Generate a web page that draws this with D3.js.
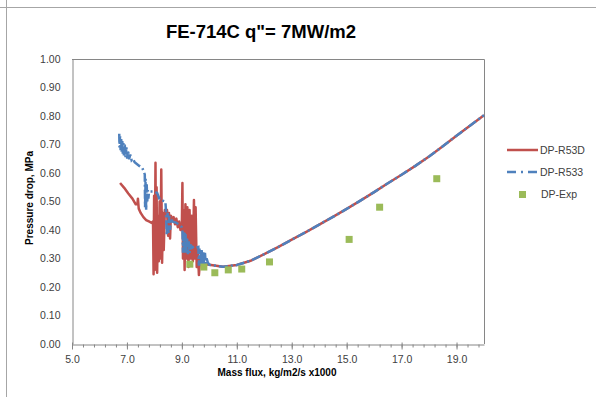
<!DOCTYPE html>
<html>
<head>
<meta charset="utf-8">
<style>
  body { margin: 0; background: #fff; font-family: "Liberation Sans", Arial, sans-serif; }
  svg text { fill: #404040; }
</style>
<script src="https://cdn.jsdelivr.net/npm/d3@7"></script>
</head>
<body>
<svg id="chart" width="596" height="397"></svg>
<script>
// values: [mass flux x1000, pressure drop MPa]
let smoothTail = [
  [10.0, 0.278], [10.5, 0.271], [11.0, 0.277], [11.5, 0.292], [12.0, 0.315],
  [12.5, 0.340], [13.0, 0.366], [13.5, 0.392], [14.0, 0.419], [14.5, 0.446],
  [15.0, 0.474], [15.5, 0.503], [16.0, 0.533], [16.5, 0.564], [17.0, 0.594],
  [17.5, 0.625], [18.0, 0.658], [18.5, 0.694], [19.0, 0.731], [19.5, 0.767],
  [20.0, 0.803]
]

let r53dHead = [
  [6.75, 0.565], [6.9, 0.548], [7.05, 0.528], [7.2, 0.51], [7.32, 0.49], [7.38, 0.49],
  [7.4, 0.51], [7.43, 0.475], [7.5, 0.46], [7.6, 0.445], [7.7, 0.435], [7.8, 0.43],
  [7.9, 0.425], [7.95, 0.43], [7.97, 0.245], [7.99, 0.52], [8.01, 0.26], [8.04, 0.636],
  [8.06, 0.28], [8.08, 0.55], [8.1, 0.25], [8.13, 0.45], [8.16, 0.29], [8.19, 0.5],
  [8.22, 0.3], [8.25, 0.612], [8.28, 0.285], [8.31, 0.46], [8.34, 0.33], [8.38, 0.47],
  [8.42, 0.455], [8.46, 0.47], [8.5, 0.38], [8.53, 0.46], [8.57, 0.37], [8.6, 0.45],
  [8.65, 0.44], [8.7, 0.445], [8.75, 0.42], [8.8, 0.44], [8.85, 0.41], [8.9, 0.43],
  [8.95, 0.4], [9.0, 0.42], [9.02, 0.565], [9.04, 0.3], [9.07, 0.47], [9.1, 0.26],
  [9.13, 0.49], [9.16, 0.3], [9.2, 0.48], [9.24, 0.27], [9.28, 0.47], [9.32, 0.3],
  [9.36, 0.45], [9.4, 0.29], [9.44, 0.505], [9.47, 0.3], [9.5, 0.48], [9.54, 0.27],
  [9.58, 0.33], [9.62, 0.242], [9.66, 0.29], [9.7, 0.3], [9.75, 0.285], [9.85, 0.28]
]

let r533Head = [
  [6.72, 0.738], [6.73, 0.69], [6.75, 0.73], [6.77, 0.68], [6.79, 0.72], [6.81, 0.675],
  [6.83, 0.712], [6.85, 0.668], [6.87, 0.705], [6.89, 0.662], [6.92, 0.7], [6.95, 0.655],
  [6.98, 0.69], [7.01, 0.65], [7.04, 0.68], [7.08, 0.648], [7.12, 0.665], [7.17, 0.645],
  [7.22, 0.65], [7.28, 0.638], [7.45, 0.625], [7.56, 0.618], [7.65, 0.595], [7.66, 0.48],
  [7.68, 0.58], [7.7, 0.47], [7.72, 0.56], [7.74, 0.5], [7.76, 0.54], [7.78, 0.51],
  [7.8, 0.53], [7.85, 0.535], [8.0, 0.535], [8.1, 0.53], [8.2, 0.505], [8.3, 0.503],
  [8.4, 0.5], [8.42, 0.47], [8.45, 0.38], [8.48, 0.46], [8.51, 0.39], [8.54, 0.45],
  [8.57, 0.4], [8.6, 0.44], [8.65, 0.43], [8.8, 0.425], [9.0, 0.41], [9.02, 0.40],
  [9.04, 0.32], [9.06, 0.395], [9.08, 0.315], [9.1, 0.39], [9.12, 0.32], [9.14, 0.385],
  [9.16, 0.32], [9.19, 0.37], [9.22, 0.315], [9.25, 0.36], [9.28, 0.32], [9.31, 0.35],
  [9.35, 0.33], [9.4, 0.34], [9.45, 0.335], [9.6, 0.34], [9.62, 0.275], [9.64, 0.335],
  [9.66, 0.275], [9.68, 0.33], [9.7, 0.275], [9.72, 0.33], [9.75, 0.278], [9.78, 0.325],
  [9.81, 0.28], [9.84, 0.32], [9.87, 0.282], [9.9, 0.3], [9.95, 0.285]
]

let expPoints = [
  [9.29, 0.28], [9.8, 0.27], [10.2, 0.25], [10.69, 0.26], [11.18, 0.263],
  [12.19, 0.288], [15.09, 0.367], [16.2, 0.48], [18.28, 0.58]
]

let xTicks = [5, 7, 9, 11, 13, 15, 17, 19]
let yTicks = [0, 0.1, 0.2, 0.3, 0.4, 0.5, 0.6, 0.7, 0.8, 0.9, 1.0]
let seriesNames = ["DP-R53D", "DP-R533", "DP-Exp"]

let svg = d3.select("#chart")
let margin = { left: 72, top: 59, right: 112, bottom: 53 }
let width = 596, height = 397

// sheet cell borders around the chart
svg.append("line").attr("x1", 0).attr("x2", width).attr("y1", 7.5).attr("y2", 7.5)
  .attr("stroke", "#a6a6a6")
svg.append("line").attr("x1", 6.5).attr("x2", 6.5).attr("y1", 0).attr("y2", height)
  .attr("stroke", "#a6a6a6")

let x = d3.scaleLinear().domain([5, 20]).range([margin.left, width - margin.right])
let y = d3.scaleLinear().domain([0, 1]).range([height - margin.bottom, margin.top])

// plot area frame (top and right)
svg.append("path")
  .attr("d", `M${x(5)},${y(1) + 0.5}H${x(20) + 0.5}V${y(0)}`)
  .attr("fill", "none").attr("stroke", "#868686")

// x axis, minor ticks first
svg.append("g")
  .attr("transform", `translate(0,${y(0) + 0.5})`)
  .call(d3.axisBottom(x).tickValues(d3.range(5, 20, 0.4)).tickSize(3).tickFormat(""))
  .call(g => g.select(".domain").remove())
  .call(g => g.selectAll("line").attr("stroke", "#868686"))

svg.append("g")
  .attr("transform", `translate(0,${y(0) + 0.5})`)
  .call(d3.axisBottom(x).tickValues(xTicks).tickSize(5).tickSizeOuter(0).tickPadding(6).tickFormat(d3.format(".1f")))
  .call(g => g.select(".domain").attr("stroke", "#868686"))
  .call(g => g.selectAll("line").attr("stroke", "#868686").attr("y1", -2))
  .call(g => g.selectAll("text").attr("font-size", 10.5).attr("fill", "#404040")
    .attr("font-family", "Liberation Sans, Arial, sans-serif"))

svg.append("g")
  .attr("transform", `translate(${x(5) + 0.5},0)`)
  .call(d3.axisLeft(y).tickValues(yTicks).tickSize(0).tickPadding(12).tickFormat(d3.format(".2f")))
  .call(g => g.select(".domain").attr("stroke", "#868686"))
  .call(g => g.selectAll("text").attr("font-size", 10.5).attr("fill", "#404040")
    .attr("font-family", "Liberation Sans, Arial, sans-serif"))

// series
let line = d3.line().x(d => x(d[0])).y(d => y(d[1]))

svg.append("path")
  .datum(r53dHead.concat(smoothTail))
  .attr("d", line)
  .attr("fill", "none").attr("stroke", "#c0504d").attr("stroke-width", 2.5)
  .attr("stroke-linejoin", "round")

svg.append("path")
  .datum(r533Head.concat(smoothTail))
  .attr("d", line)
  .attr("fill", "none").attr("stroke", "#4f81bd").attr("stroke-width", 2.5)
  .attr("stroke-dasharray", "9,3,2,3")

svg.selectAll(".exp").data(expPoints).enter().append("rect")
  .attr("class", "exp")
  .attr("x", d => x(d[0]) - 3.5).attr("y", d => y(d[1]) - 3.5)
  .attr("width", 7).attr("height", 7)
  .attr("fill", "#9bbb59")

// titles
svg.append("text").attr("x", 261).attr("y", 38).attr("text-anchor", "middle")
  .attr("font-size", 18.5).attr("font-weight", "bold")
  .style("fill", "#000")
  .text('FE-714C q"= 7MW/m2')

svg.append("text").attr("x", 277).attr("y", 376).attr("text-anchor", "middle")
  .attr("font-size", 10).attr("font-weight", "bold").style("fill", "#000")
  .text("Mass flux, kg/m2/s x1000")

svg.append("text").attr("transform", "translate(33,198) rotate(-90)").attr("text-anchor", "middle")
  .attr("font-size", 10).attr("font-weight", "bold").style("fill", "#000")
  .text("Pressure drop, MPa")

// legend
let legend = svg.append("g").attr("transform", "translate(507,150)")
let rowGap = 22
legend.append("line").attr("x1", 0).attr("x2", 31).attr("y1", 0).attr("y2", 0)
  .attr("stroke", "#c0504d").attr("stroke-width", 2.5)
legend.append("line").attr("x1", 0).attr("x2", 31).attr("y1", rowGap).attr("y2", rowGap)
  .attr("stroke", "#4f81bd").attr("stroke-width", 2.5).attr("stroke-dasharray", "9,5,2,5")
legend.append("rect").attr("x", 12).attr("y", rowGap * 2 - 3).attr("width", 7).attr("height", 7)
  .attr("fill", "#9bbb59")
legend.selectAll(".lbl").data(seriesNames).enter().append("text")
  .attr("class", "lbl")
  .attr("x", d => d == "DP-Exp" ? 34 : 33).attr("y", (d, i) => i * rowGap + 3.5)
  .attr("font-size", 10.5).style("fill", "#404040")
  .text(d => d)
</script>
</body>
</html>
